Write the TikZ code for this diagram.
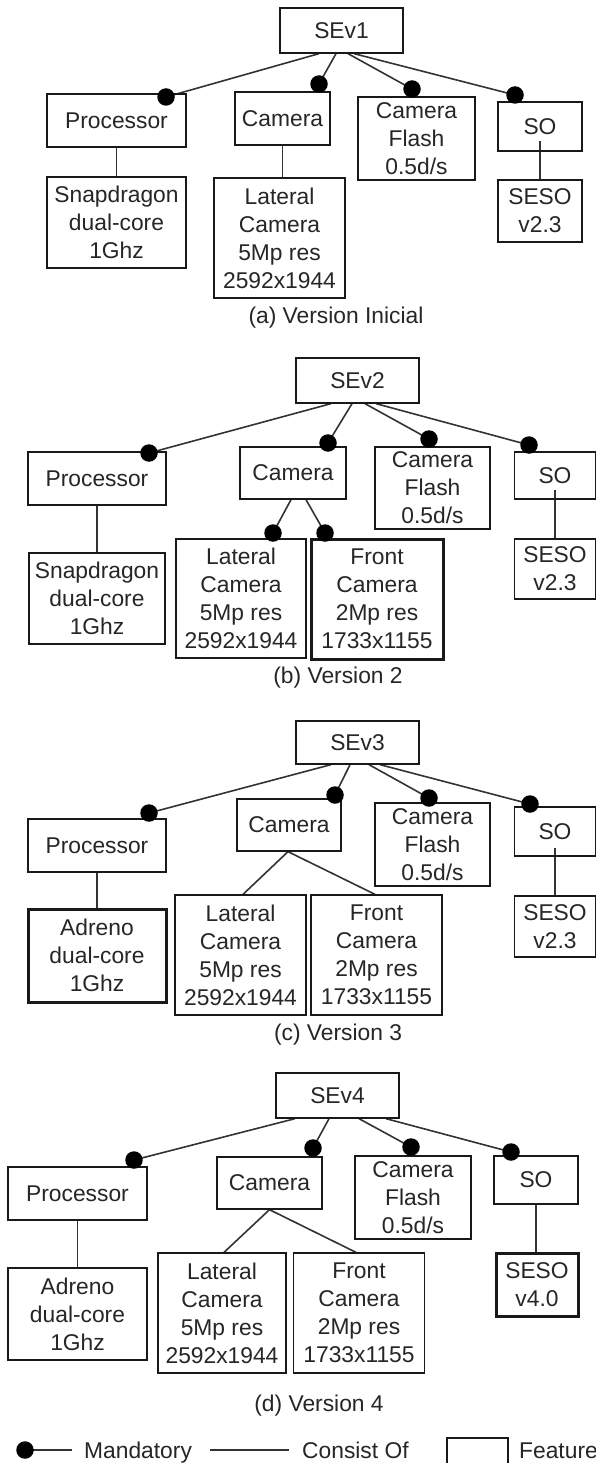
\documentclass[tikz,border=0pt]{standalone}
\usepackage{fontspec}
\setmainfont{Liberation Sans}
\pgfdeclarelayer{bg}
\pgfsetlayers{bg,main}
\begin{document}
\begin{tikzpicture}[x=1pt,y=-1pt,
  ff/.style={font=\fontsize{22.8}{28}\selectfont},
  feat/.style={draw=black!90, line width=1.3pt, align=center, inner sep=0pt, text=black!85, ff},
  thk/.style={line width=3pt},
  wh/.style 2 args={minimum width=#1pt, minimum height=#2pt},
  mdot/.style={circle, fill=black, inner sep=0pt, minimum size=17.5pt},
  conn/.style={draw=black!80, line width=1.6pt},
  captxt/.style={ff, text=black!85, inner sep=0pt}]
\useasboundingbox (0,0) rectangle (596,1463);
\begin{pgfonlayer}{bg}
\fill[white] (0,0) rectangle (596,1463);
\end{pgfonlayer}

% ---------------- (a) ----------------
\node[feat, wh={123}{45}] (SEa) at (341.5,30.5) {SEv1};
\node[feat, wh={139}{53}] (Pa) at (116.5,120.5) {Processor};
\node[feat, wh={95}{53}] (Ca) at (282.5,118.5) {Camera};
\node[feat, wh={117}{83}] (Fa) at (416.5,138.5) {Camera\\Flash\\0.5d/s};
\node[feat, wh={84}{49}] (Sa) at (540,126.5) {SO};
\node[feat, wh={139}{91}] (PXa) at (116.5,222.5) {Snapdragon\\dual-core\\1Ghz};
\node[feat, wh={131}{120}] (La) at (279.5,238) {Lateral\\Camera\\5Mp res\\2592x1944};
\node[feat, wh={84}{62}] (SSa) at (540,211) {SESO\\v2.3};
\node[captxt] (capa) at (336,318) {(a) Version Inicial};
\node[mdot] (dPa) at (166,97) {};
\node[mdot] (dCa) at (319,84) {};
\node[mdot] (dFa) at (412,89) {};
\node[mdot] (dSa) at (515,95) {};
\begin{pgfonlayer}{bg}
\draw[conn] ([xshift=-22.5pt]SEa.south) -- (dPa.center);
\draw[conn] ([xshift=-5.5pt]SEa.south) -- (dCa.center);
\draw[conn] ([xshift=6.5pt]SEa.south) -- (dFa.center);
\draw[conn] ([xshift=12.5pt]SEa.south) -- (dSa.center);
\draw[conn] (Pa) -- (PXa);
\draw[conn] (Ca.south) -- (Ca.south |- La.north);
\draw[conn, shorten <=-11pt] (Sa) -- (SSa);
\end{pgfonlayer}

% ---------------- (b) ----------------
\node[feat, wh={123}{45}] (SEb) at (357.5,380.5) {SEv2};
\node[feat, wh={138}{53}] (Pb) at (97,478.5) {Processor};
\node[feat, wh={106}{52}] (Cb) at (293,473) {Camera};
\node[feat, wh={115}{82}] (Fb) at (432.5,488) {Camera\\Flash\\0.5d/s};
\node[feat, wh={81}{47}] (Sb) at (555,475.5) {SO};
\node[feat, wh={136}{91}] (PXb) at (97,598.5) {Snapdragon\\dual-core\\1Ghz};
\node[feat, wh={130}{119}] (Lb) at (241,598.5) {Lateral\\Camera\\5Mp res\\2592x1944};
\node[feat, thk, wh={132}{120}] (Frb) at (377,599) {Front\\Camera\\2Mp res\\1733x1155};
\node[feat, wh={81}{60}] (SSb) at (555,569) {SESO\\v2.3};
\node[captxt] (capb) at (338,678) {(b) Version 2};
\node[mdot] (dPb) at (149,453) {};
\node[mdot] (dCb) at (328,443) {};
\node[mdot] (dFb) at (429,439) {};
\node[mdot] (dSb) at (529,445) {};
\node[mdot] (dLb) at (273,533) {};
\node[mdot] (dFrb) at (325,533) {};
\begin{pgfonlayer}{bg}
\draw[conn] ([xshift=-26.5pt]SEb.south) -- (dPb.center);
\draw[conn] ([xshift=-5.5pt]SEb.south) -- (dCb.center);
\draw[conn] ([xshift=7.5pt]SEb.south) -- (dFb.center);
\draw[conn] ([xshift=18.5pt]SEb.south) -- (dSb.center);
\draw[conn] ([xshift=-2pt]Cb.south) -- (dLb.center);
\draw[conn] ([xshift=13pt]Cb.south) -- (dFrb.center);
\draw[conn] (Pb) -- (PXb);
\draw[conn, shorten <=-10pt] (Sb) -- (SSb);
\end{pgfonlayer}

% ---------------- (c) ----------------
\node[feat, wh={123}{43}] (SEc) at (357.5,742.5) {SEv3};
\node[feat, wh={138}{53}] (Pc) at (97,845.5) {Processor};
\node[feat, wh={104}{52}] (Cc) at (289,825) {Camera};
\node[feat, wh={115}{83}] (Fc) at (432.5,844.5) {Camera\\Flash\\0.5d/s};
\node[feat, wh={81}{49}] (Sc) at (555,831.5) {SO};
\node[feat, thk, wh={138}{93}] (PXc) at (97,955.5) {Adreno\\dual-core\\1Ghz};
\node[feat, wh={131}{120}] (Lc) at (240.5,955) {Lateral\\Camera\\5Mp res\\2592x1944};
\node[feat, wh={131}{120}] (Frc) at (376.5,955) {Front\\Camera\\2Mp res\\1733x1155};
\node[feat, wh={81}{61}] (SSc) at (555,926.5) {SESO\\v2.3};
\node[captxt] (capc) at (338,1035) {(c) Version 3};
\node[mdot] (dPc) at (149,813) {};
\node[mdot] (dCc) at (335,795) {};
\node[mdot] (dFc) at (429,798) {};
\node[mdot] (dSc) at (530,804) {};
\begin{pgfonlayer}{bg}
\draw[conn] ([xshift=-26.5pt]SEc.south) -- (dPc.center);
\draw[conn] ([xshift=-7.5pt]SEc.south) -- (dCc.center);
\draw[conn] ([xshift=11.5pt]SEc.south) -- (dFc.center);
\draw[conn] ([xshift=22.5pt]SEc.south) -- (dSc.center);
\draw[conn] ([xshift=-1pt]Cc.south) -- ([xshift=2.5pt]Lc.north);
\draw[conn] ([xshift=-1pt]Cc.south) -- ([xshift=-1.5pt]Frc.north);
\draw[conn] (Pc) -- (PXc);
\draw[conn, shorten <=-9pt] (Sc) -- (SSc);
\end{pgfonlayer}

% ---------------- (d) ----------------
\node[feat, wh={123}{45}] (SEd) at (337.5,1095.5) {SEv4};
\node[feat, wh={139}{53}] (Pd) at (77.5,1193.5) {Processor};
\node[feat, wh={105}{52}] (Cd) at (269.5,1183) {Camera};
\node[feat, wh={116}{83}] (Fd) at (413,1197.5) {Camera\\Flash\\0.5d/s};
\node[feat, wh={84}{48}] (Sd) at (536,1180) {SO};
\node[feat, wh={139}{92}] (PXd) at (77.5,1314) {Adreno\\dual-core\\1Ghz};
\node[feat, wh={128}{120}] (Ld) at (222,1313) {Lateral\\Camera\\5Mp res\\2592x1944};
\node[feat, wh={131}{120}] (Frd) at (359,1313) {Front\\Camera\\2Mp res\\1733x1155};
\node[feat, thk, wh={82}{63}] (SSd) at (537,1284.5) {SESO\\v4.0};
\node[captxt] (capd) at (319,1406) {(d) Version 4};
\node[mdot] (dPd) at (134,1160) {};
\node[mdot] (dCd) at (313,1148) {};
\node[mdot] (dFd) at (411,1147) {};
\node[mdot] (dSd) at (511,1152) {};
\begin{pgfonlayer}{bg}
\draw[conn] ([xshift=-42.5pt]SEd.south) -- (dPd.center);
\draw[conn] ([xshift=-8.5pt]SEd.south) -- (dCd.center);
\draw[conn] ([xshift=21.5pt]SEd.south) -- (dFd.center);
\draw[conn] ([xshift=48.5pt]SEd.south) -- (dSd.center);
\draw[conn] (Cd.south) -- ([xshift=2pt]Ld.north);
\draw[conn] (Cd.south) -- ([xshift=-3pt]Frd.north);
\draw[conn] (Pd) -- (PXd);
\draw[conn] (Sd.south) -- (Sd.south |- SSd.north);
\end{pgfonlayer}

% ---------------- legend ----------------
\node[mdot] (ldot) at (25,1450) {};
\coordinate (lme) at (72,1450);
\node[captxt, anchor=base west] (lman) at (84,1458) {Mandatory};
\coordinate (lcs) at (210,1450);
\coordinate (lce) at (289,1450);
\node[captxt, anchor=base west] (lcon) at (302,1458) {Consist Of};
\node[feat, wh={61}{44}] (lbox) at (477.5,1460) {};
\node[captxt, anchor=base west] (lfeat) at (519,1458) {Feature};
\begin{pgfonlayer}{bg}
\draw[conn] (ldot.center) -- (lme);
\draw[conn] (lcs) -- (lce);
\end{pgfonlayer}
\end{tikzpicture}
\end{document}
